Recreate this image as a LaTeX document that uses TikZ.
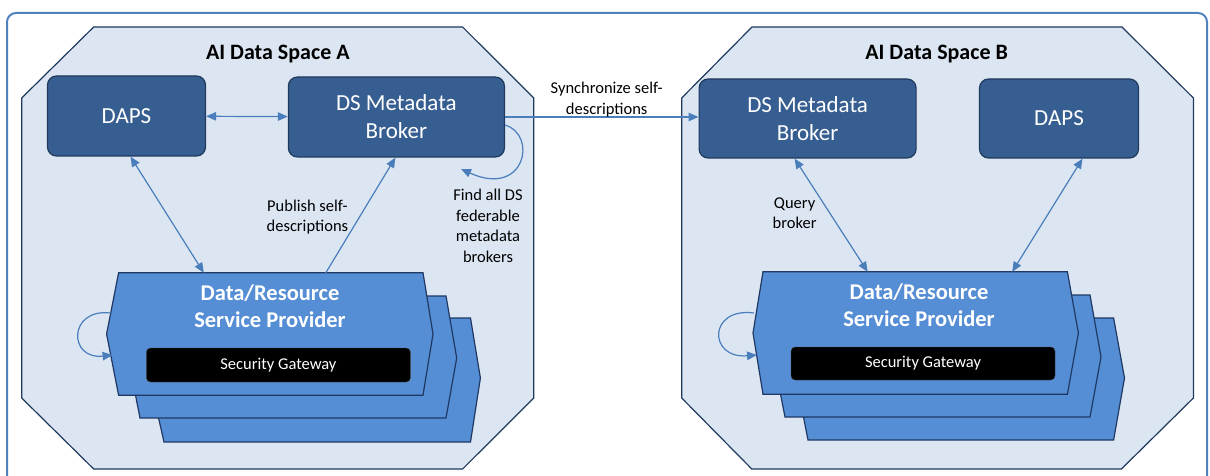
\documentclass[tikz,border=0pt]{standalone}
\usepackage{fontspec}
\setmainfont{Carlito}
\usetikzlibrary{arrows.meta}

\definecolor{frameblue}{HTML}{4F81BD}
\definecolor{spacefill}{HTML}{DCE6F2}
\definecolor{spaceline}{HTML}{1F3A5C}
\definecolor{boxfill}{HTML}{375E91}
\definecolor{boxline}{HTML}{1F3A5C}
\definecolor{provfill}{HTML}{558ED5}
\definecolor{provline}{HTML}{1F3864}
\definecolor{linkblue}{HTML}{4A7EBB}

\tikzset{
  outerframe/.style={draw=frameblue, line width=2pt, rounded corners=9pt},
  dataspace/.style={draw=spaceline, fill=spacefill, line width=1.2pt},
  spacetitle/.style={font=\fontsize{22}{26}\selectfont\bfseries},
  dsbox/.style={draw=boxline, fill=boxfill, line width=1.2pt, rounded corners=9pt,
    text=white, align=center, inner sep=0pt, font=\fontsize{23}{28}\selectfont},
  provlayer/.style={draw=provline, fill=provfill, line width=1.2pt},
  provframe/.style={minimum width=304pt, minimum height=122pt, inner sep=0pt},
  provtext/.style={text=white, align=center, font=\fontsize{22.5}{27}\selectfont\bfseries},
  gateway/.style={fill=black, draw=black!70, rounded corners=4pt, text=white,
    minimum width=264pt, minimum height=34pt, inner sep=0pt, font=\fontsize{16.5}{19}\selectfont},
  linklabel/.style={align=center, font=\fontsize{16.5}{20.5}\selectfont, inner sep=1pt},
  link/.style={draw=linkblue, line width=1.2pt, -{Triangle[length=10pt,width=8.5pt]}},
  twoway/.style={link, {Triangle[length=10pt,width=8.5pt]}-{Triangle[length=10pt,width=8.5pt]}}
}

\begin{document}
\begin{tikzpicture}[x=1pt,y=-1pt]
\useasboundingbox (0,0) rectangle (1210,476);

% outer frame
\draw[outerframe] (7,13) rectangle (1207,530);

% Data space A
\draw[dataspace] (93.7,27) -- (462.6,27) -- (533.8,98) -- (533.8,398) -- (462.6,469)
  -- (93.7,469) -- (21.7,398) -- (21.7,98) -- cycle;
\node[spacetitle] (titleA) at (277.8,54) {AI Data Space A};

\node[dsbox, minimum width=158pt, minimum height=80pt] (dapsA) at (126.5,116) {DAPS};
\node[dsbox, minimum width=216pt, minimum height=80pt] (brokerA) at (396.4,117) {DS Metadata\\Broker};

% provider stack A
\node[provframe] (provA) at (270.8,334) {};
\draw[provlayer] (160,318) -- (470.5,318) -- (480.4,378) -- (470.5,442) -- (164,442) -- (150,380) -- cycle;
\draw[provlayer] (138.4,296) -- (446,296) -- (456.7,358) -- (446,418) -- (140,418) -- (128,357) -- cycle;
\draw[provlayer] (provA.north west) -- (provA.north east) -- ([xshift=10pt]provA.east)
  -- (provA.south east) -- (provA.south west) -- ([xshift=-12pt]provA.west) -- cycle;
\node[provtext] (provAtitle) at (270,306.5) {Data/Resource\\Service Provider};
\node[gateway] (gwA) at (278.4,365) {Security Gateway};

% Data space B
\draw[dataspace] (752,27) -- (1122,27) -- (1193.4,98) -- (1193.4,398) -- (1121.4,469)
  -- (751.8,469) -- (681.7,398) -- (681.7,98) -- cycle;
\node[spacetitle] (titleB) at (936.6,54) {AI Data Space B};

\node[dsbox, minimum width=217pt, minimum height=79pt] (brokerB) at (807.6,118.5) {DS Metadata\\Broker};
\node[dsbox, minimum width=159pt, minimum height=79pt] (dapsB) at (1059,118.5) {DAPS};

% provider stack B
\node[provframe] (provB) at (915.2,333) {};
\draw[provlayer] (806,318) -- (1113.6,318) -- (1124.5,378) -- (1113.6,440) -- (808,440) -- (796,379) -- cycle;
\draw[provlayer] (783,295) -- (1090,295) -- (1101,357) -- (1090,417) -- (785,417) -- (773,356) -- cycle;
\draw[provlayer] (provB.north west) -- (provB.north east) -- ([xshift=11pt]provB.east)
  -- (provB.south east) -- (provB.south west) -- ([xshift=-10pt]provB.west) -- cycle;
\node[provtext] (provBtitle) at (919,305.5) {Data/Resource\\Service Provider};
\node[gateway, minimum height=33pt] (gwB) at (923,363.5) {Security Gateway};

% connectors in A
\draw[twoway] (dapsA) -- (brokerA);
\draw[twoway] ([xshift=4pt]dapsA.south) -- ([xshift=-67pt]provA.north);
\draw[link] ([xshift=55pt]provA.north) -- ([xshift=-1pt]brokerA.south);
\coordinate (findEnd) at (461,169);
\draw[link] ([yshift=-8pt]brokerA.east) .. controls (538,135) and (525,198) .. (findEnd);
\draw[link] ([xshift=-8pt,yshift=21pt]provA.west) .. controls (68,308) and (68,360) .. ([xshift=-6pt,yshift=-21pt]provA.west);

% connectors between the spaces and in B
\draw[link] (brokerA.east) -- (brokerA.east -| brokerB.west);
\draw[twoway] ([xshift=-13pt]brokerB.south) -- ([xshift=-47.5pt]provB.north);
\draw[twoway] ([xshift=23.5pt]dapsB.south) -- ([xshift=97pt]provB.north);
\draw[link] ([xshift=-9pt,yshift=20pt]provB.west) .. controls (708,307) and (708,359) .. ([xshift=-6pt,yshift=-22pt]provB.west);

% labels
\node[linklabel] (lblSync) at (606.7,99.5) {Synchronize self-\\descriptions};
\node[linklabel] (lblPublish) at (307.4,217) {Publish self-\\descriptions};
\node[linklabel] (lblFind) at (488,226) {Find all DS\\federable\\metadata\\brokers};
\node[linklabel] (lblQuery) at (794.6,213) {Query\\broker};

\end{tikzpicture}
\end{document}
